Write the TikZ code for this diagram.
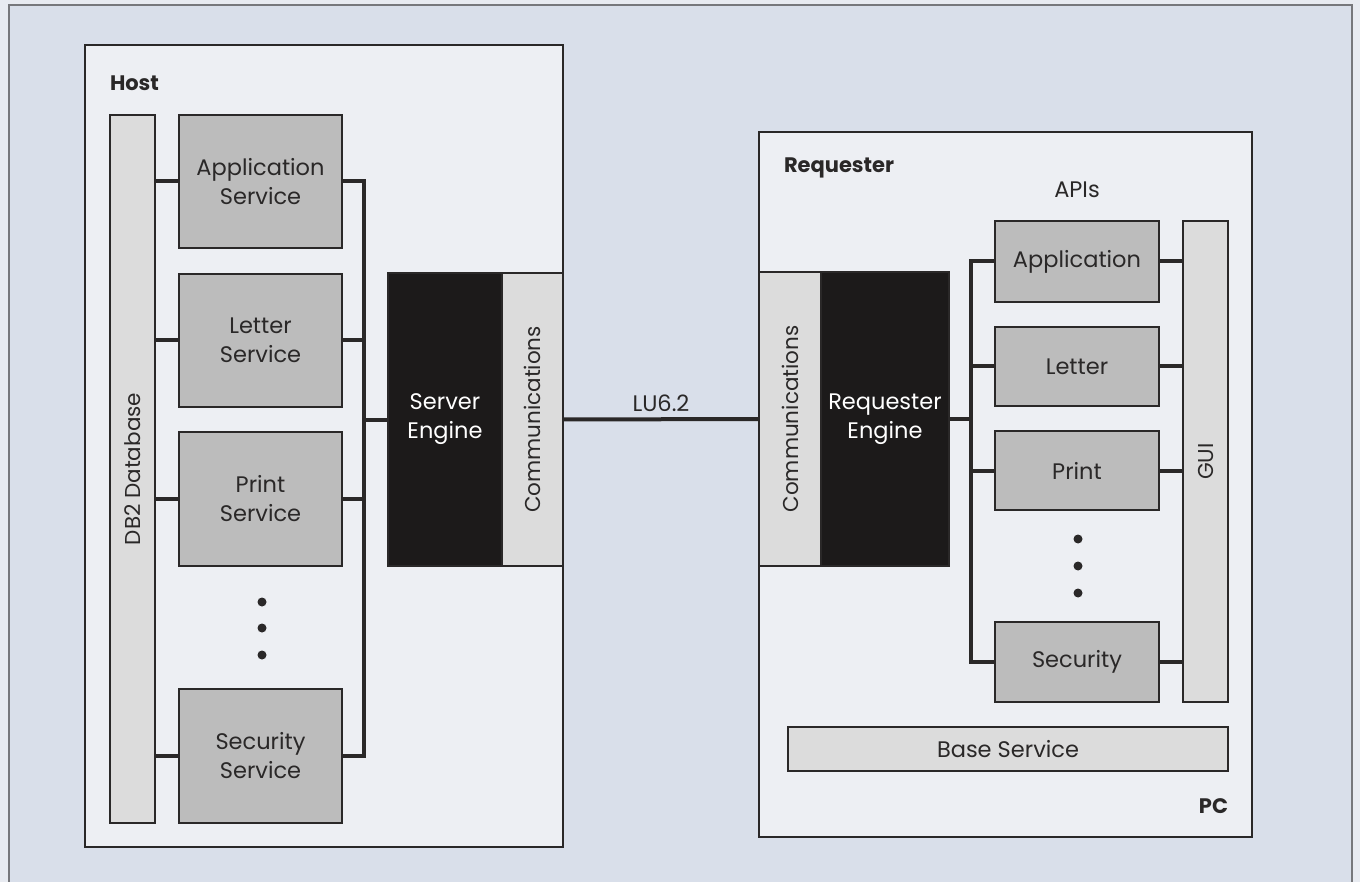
\documentclass[tikz,border=0pt]{standalone}
\usepackage{fontspec}
\setmainfont{Poppins}
\definecolor{outerc}{HTML}{E8EBF1}
\definecolor{bgc}{HTML}{D9DFEA}
\definecolor{panelc}{HTML}{EDEFF3}
\definecolor{svcc}{HTML}{BCBCBC}
\definecolor{barc}{HTML}{DCDCDC}
\definecolor{engc}{HTML}{1C1A1A}
\definecolor{inkc}{HTML}{2A2828}
\definecolor{framec}{HTML}{77787C}
\begin{document}
\begin{tikzpicture}[x=1pt,y=-1pt,
  every node/.style={inner sep=0pt, outer sep=0pt, text=inkc},
  boxbase/.style={draw=inkc, line width=2.8pt, anchor=north west, align=center, font=\fontsize{22.5}{29}\selectfont},
  panel/.style={boxbase, fill=panelc},
  svc/.style={boxbase, fill=svcc},
  bar/.style={boxbase, fill=barc},
  eng/.style={boxbase, fill=engc, text=white},
  conn/.style={draw=inkc, line width=4pt},
  lbl/.style={font=\fontsize{21}{24}\selectfont\bfseries},
  txt/.style={font=\fontsize{22.5}{29}\selectfont},
  rtxt/.style={font=\fontsize{21.5}{26}\selectfont, rotate=90},
  dotc/.style={circle, fill=inkc, minimum size=9pt}
]
\useasboundingbox (0,0) rectangle (1360,882);
\fill[outerc] (0,0) rectangle (1360,882);
\fill[bgc] (9,5) rectangle (1352,882);
\draw[framec, line width=1.5pt] (9,882) -- (9,5) -- (1352,5) -- (1352,882);

% ---------------- Host side ----------------
\node[panel, minimum width=478pt, minimum height=802pt] (host) at (85,45) {};
\node[lbl, anchor=west] (hostl) at (110,83) {Host};
\node[bar, minimum width=45pt, minimum height=708pt] (db) at (110,115) {};
\node[rtxt] (dbl) at (db.center) {DB2 Database};

\node[svc, minimum width=163pt, minimum height=133pt] (app) at (179,115) {Application\\Service};
\node[svc, minimum width=163pt, minimum height=133pt] (let) at (179,274) {Letter\\Service};
\node[svc, minimum width=163pt, minimum height=134pt] (prn) at (179,432) {Print\\Service};
\node[svc, minimum width=163pt, minimum height=134pt] (sec) at (179,689) {Security\\Service};

\node[dotc] (hd1) at (262,602) {};
\node[dotc] (hd2) at (262,628) {};
\node[dotc] (hd3) at (262,655) {};

\node[eng, minimum width=114pt, minimum height=293pt] (srv) at (388,273) {Server\\Engine};
\node[bar, minimum width=61pt, minimum height=293pt] (hcomm) at (502,273) {};
\node[rtxt] (hcomml) at (hcomm.center) {Communications};

% host connectors
\draw[conn] (db.east |- app.west) -- (app.west);
\draw[conn] (db.east |- let.west) -- (let.west);
\draw[conn] (db.east |- prn.west) -- (prn.west);
\draw[conn] (db.east |- sec.west) -- (sec.west);
\coordinate (hb) at (364,419.5);
\draw[conn] (app.east) -| (hb |- sec.east) -- (sec.east);
\draw[conn] (let.east) -- (hb |- let.east);
\draw[conn] (prn.east) -- (hb |- prn.east);
\draw[conn] (hb |- srv.west) -- (srv.west);

% ---------------- PC side ----------------
\node[panel, minimum width=493pt, minimum height=705pt] (pc) at (759,132) {};
\node[lbl, anchor=west] (reql) at (784,168) {Requester};
\node[txt] (apil) at (1077,190) {APIs};
\node[lbl, anchor=east] (pcl) at (1228,806) {PC};

\node[bar, minimum width=62pt, minimum height=294pt] (rcomm) at (759,272) {};
\node[rtxt] (rcomml) at (rcomm.center) {Communications};
\node[eng, minimum width=128pt, minimum height=294pt] (reng) at (821,272) {Requester\\Engine};

\node[svc, minimum width=164pt, minimum height=81pt] (aapp) at (995,221) {Application};
\node[svc, minimum width=164pt, minimum height=79pt] (alet) at (995,327) {Letter};
\node[svc, minimum width=164pt, minimum height=79pt] (aprn) at (995,431) {Print};
\node[svc, minimum width=164pt, minimum height=80pt] (asec) at (995,622) {Security};

\node[dotc] (pd1) at (1078,539) {};
\node[dotc] (pd2) at (1078,566) {};
\node[dotc] (pd3) at (1078,593) {};

\node[bar, minimum width=45pt, minimum height=481pt] (gui) at (1183,221) {};
\node[rtxt] (guil) at (gui.center) {GUI};

\node[bar, minimum width=440pt, minimum height=44pt] (base) at (788,727) {Base Service};

% PC connectors
\coordinate (rb) at (971,419);
\draw[conn] (aapp.west) -| (rb |- asec.west) -- (asec.west);
\draw[conn] (alet.west) -- (rb |- alet.west);
\draw[conn] (aprn.west) -- (rb |- aprn.west);
\draw[conn] (reng.east) -- (rb |- reng.east);
\draw[conn] (aapp.east) -- (gui.west |- aapp.east);
\draw[conn] (alet.east) -- (gui.west |- alet.east);
\draw[conn] (aprn.east) -- (gui.west |- aprn.east);
\draw[conn] (asec.east) -- (gui.west |- asec.east);

% link
\draw[conn] (hcomm.east) -- (rcomm.west) node[midway, above=8pt, txt] (lu) {LU6.2};
\end{tikzpicture}
\end{document}
